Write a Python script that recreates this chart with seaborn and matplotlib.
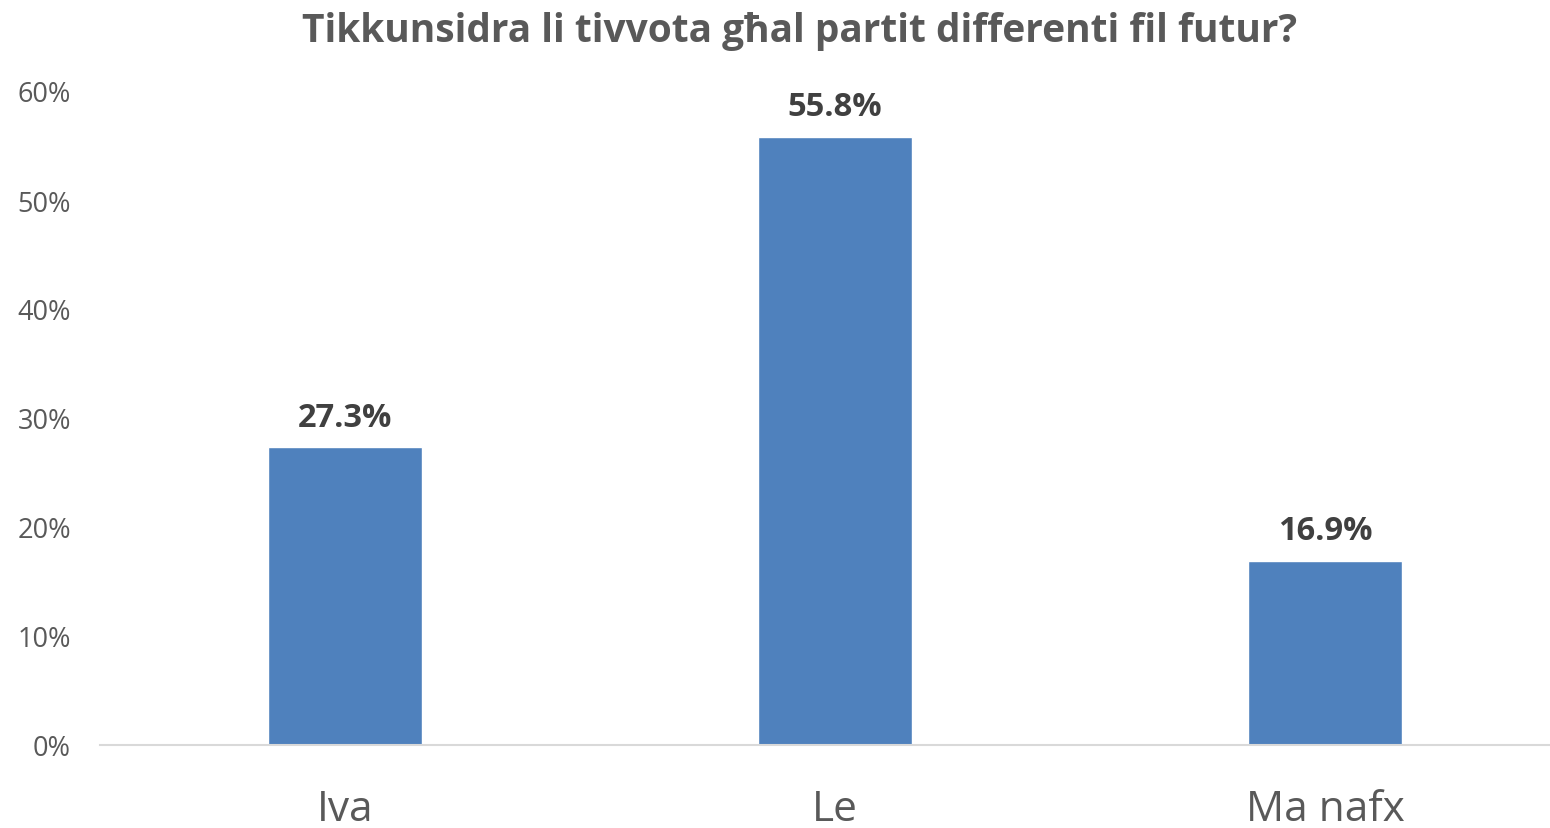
import matplotlib
matplotlib.use("Agg")
import matplotlib.pyplot as plt
import seaborn as sns
import pandas as pd

# Survey answers and their shares (percent)
categories = ["Iva", "Le", "Ma nafx"]
shares = [27.3, 55.8, 16.9]
y_ticks = [0, 10, 20, 30, 40, 50, 60]
title = "Tikkunsidra li tivvota għal partit differenti fil futur?"

sns.set_theme(style="white")
plt.rcParams["font.family"] = ["Open Sans", "DejaVu Sans"]

df = pd.DataFrame({"answer": categories, "share": shares})

fig = plt.figure(figsize=(15.5, 8.29), dpi=100)
ax = fig.add_axes([100 / 1550, 83 / 829, 1470 / 1550, 654 / 829])

sns.barplot(data=df, x="answer", y="share", color="#4F81BD", width=0.314,
            saturation=1, ax=ax)

ax.set_xlim(-0.5, 2.5)
ax.set_ylim(0, 60)
ax.set_yticks(y_ticks)
ax.set_yticklabels([f"{t}%" for t in y_ticks], fontsize=19.5, color="#595959")
ax.tick_params(axis="y", length=0, pad=21)
ax.tick_params(axis="x", length=0, pad=31, labelsize=30.5, labelcolor="#595959")
ax.set_xlabel("")
ax.set_ylabel("")

for side in ["top", "right", "left"]:
    ax.spines[side].set_visible(False)
ax.spines["bottom"].set_color("#D9D9D9")
ax.spines["bottom"].set_linewidth(1.5)
ax.grid(False)

for i, v in enumerate(shares):
    ax.annotate(f"{v:.1f}%", xy=(i, v), xytext=(0, 10), textcoords="offset points",
                ha="center", va="bottom", fontsize=23.5, fontweight="bold",
                color="#404040")

fig.text(0.516, 0.962, title, ha="center", va="center", fontsize=28,
         fontweight="bold", color="#595959")

fig.savefig("out.png", dpi=100)
